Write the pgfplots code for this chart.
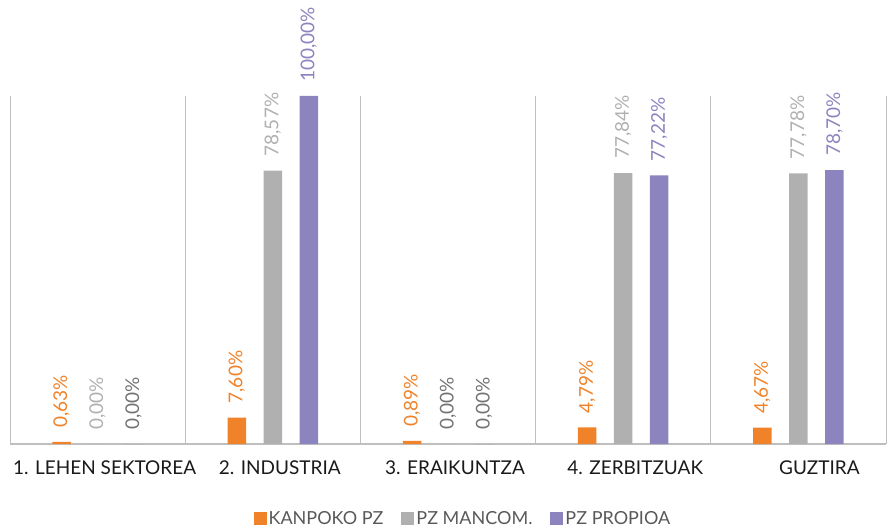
\documentclass[border=0pt]{standalone}
\usepackage{pgfplots}
\pgfplotsset{compat=1.18}
\usepackage{fontspec}
\setmainfont{Lato}
\definecolor{kanpoko}{RGB}{240,131,42}
\definecolor{mancom}{RGB}{176,176,176}
\definecolor{propioa}{RGB}{139,132,190}
\definecolor{zerogray}{RGB}{115,115,115}
\definecolor{gridgray}{RGB}{191,191,191}
\definecolor{ticktext}{RGB}{26,26,26}
\definecolor{legtext}{RGB}{89,89,89}

% label plot: value printed with comma, rotated, shifted to its bar
\pgfplotsset{
  vallabel/.style n args={2}{
    draw=none, mark=none, forget plot,
    point meta=y,
    nodes near coords={\pgfmathprintnumber[fixed,fixed zerofill,precision=2,use comma,assume math mode=true]{\pgfplotspointmeta}\%},
    every node near coord/.style={xshift=#1, rotate=90, anchor=west,
      text=#2, inner xsep=14pt, inner ysep=2pt, font=\fontsize{19}{20}\selectfont},
  },
}

\begin{document}
\begin{tikzpicture}[x=1pt,y=1pt]
\begin{axis}[
  at={(10pt,83pt)}, anchor=south west,
  width=876pt, height=348pt, scale only axis,
  xmin=-0.5, xmax=4.5, ymin=0, ymax=100,
  axis x line*=bottom, axis y line=none,
  axis line style={gridgray, line width=1pt},
  xtick={0,1,2,3,4},
  xticklabels={1. LEHEN SEKTOREA, 2. INDUSTRIA, 3. ERAIKUNTZA, \hspace*{10pt}4. ZERBITZUAK, \hspace*{28pt}GUZTIRA},
  xticklabel style={font=\fontsize{19}{20}\selectfont, text=ticktext, xshift=7pt, yshift=-13pt},
  major tick length=0pt, minor tick length=0pt,
  minor xtick={-0.5,0.5,1.5,2.5,3.5,4.5},
  xminorgrids=true,
  minor x grid style={gridgray, line width=1pt},
  clip=false,
  legend columns=3,
  legend style={at={(0.517,-0.2155)}, anchor=center, draw=none, fill=none,
    font=\fontsize{18}{18}\selectfont, text=legtext,
    /tikz/every even column/.append style={column sep=16pt}},
  legend image code/.code={\fill[#1] (0pt,-6.5pt) rectangle (13pt,6.5pt);},
]
\addplot[ybar, bar width=18.5pt, bar shift=-36pt, fill=kanpoko, draw=none]
  coordinates {(0,0.63) (1,7.60) (2,0.89) (3,4.79) (4,4.67)};
\addlegendentry{KANPOKO PZ}
\addplot[ybar, bar width=18.5pt, bar shift=0pt, fill=mancom, draw=none]
  coordinates {(0,0) (1,78.57) (2,0) (3,77.84) (4,77.78)};
\addlegendentry{PZ MANCOM.}
\addplot[ybar, bar width=18.5pt, bar shift=36pt, fill=propioa, draw=none]
  coordinates {(0,0) (1,100) (2,0) (3,77.22) (4,78.70)};
\addlegendentry{PZ PROPIOA}

\addplot[vallabel={-36pt}{kanpoko}]
  coordinates {(0,0.63) (1,7.60) (2,0.89) (3,4.79) (4,4.67)};
\addplot[vallabel={0pt}{mancom}]
  coordinates {(0,0) (1,78.57) (3,77.84) (4,77.78)};
\addplot[vallabel={0pt}{zerogray}]
  coordinates {(2,0)};
\addplot[vallabel={36pt}{propioa}]
  coordinates {(1,100) (3,77.22) (4,78.70)};
\addplot[vallabel={36pt}{zerogray}]
  coordinates {(0,0) (2,0)};
\end{axis}
\pgfresetboundingbox
\path (0,0) rectangle (888,527);
\end{tikzpicture}
\end{document}
